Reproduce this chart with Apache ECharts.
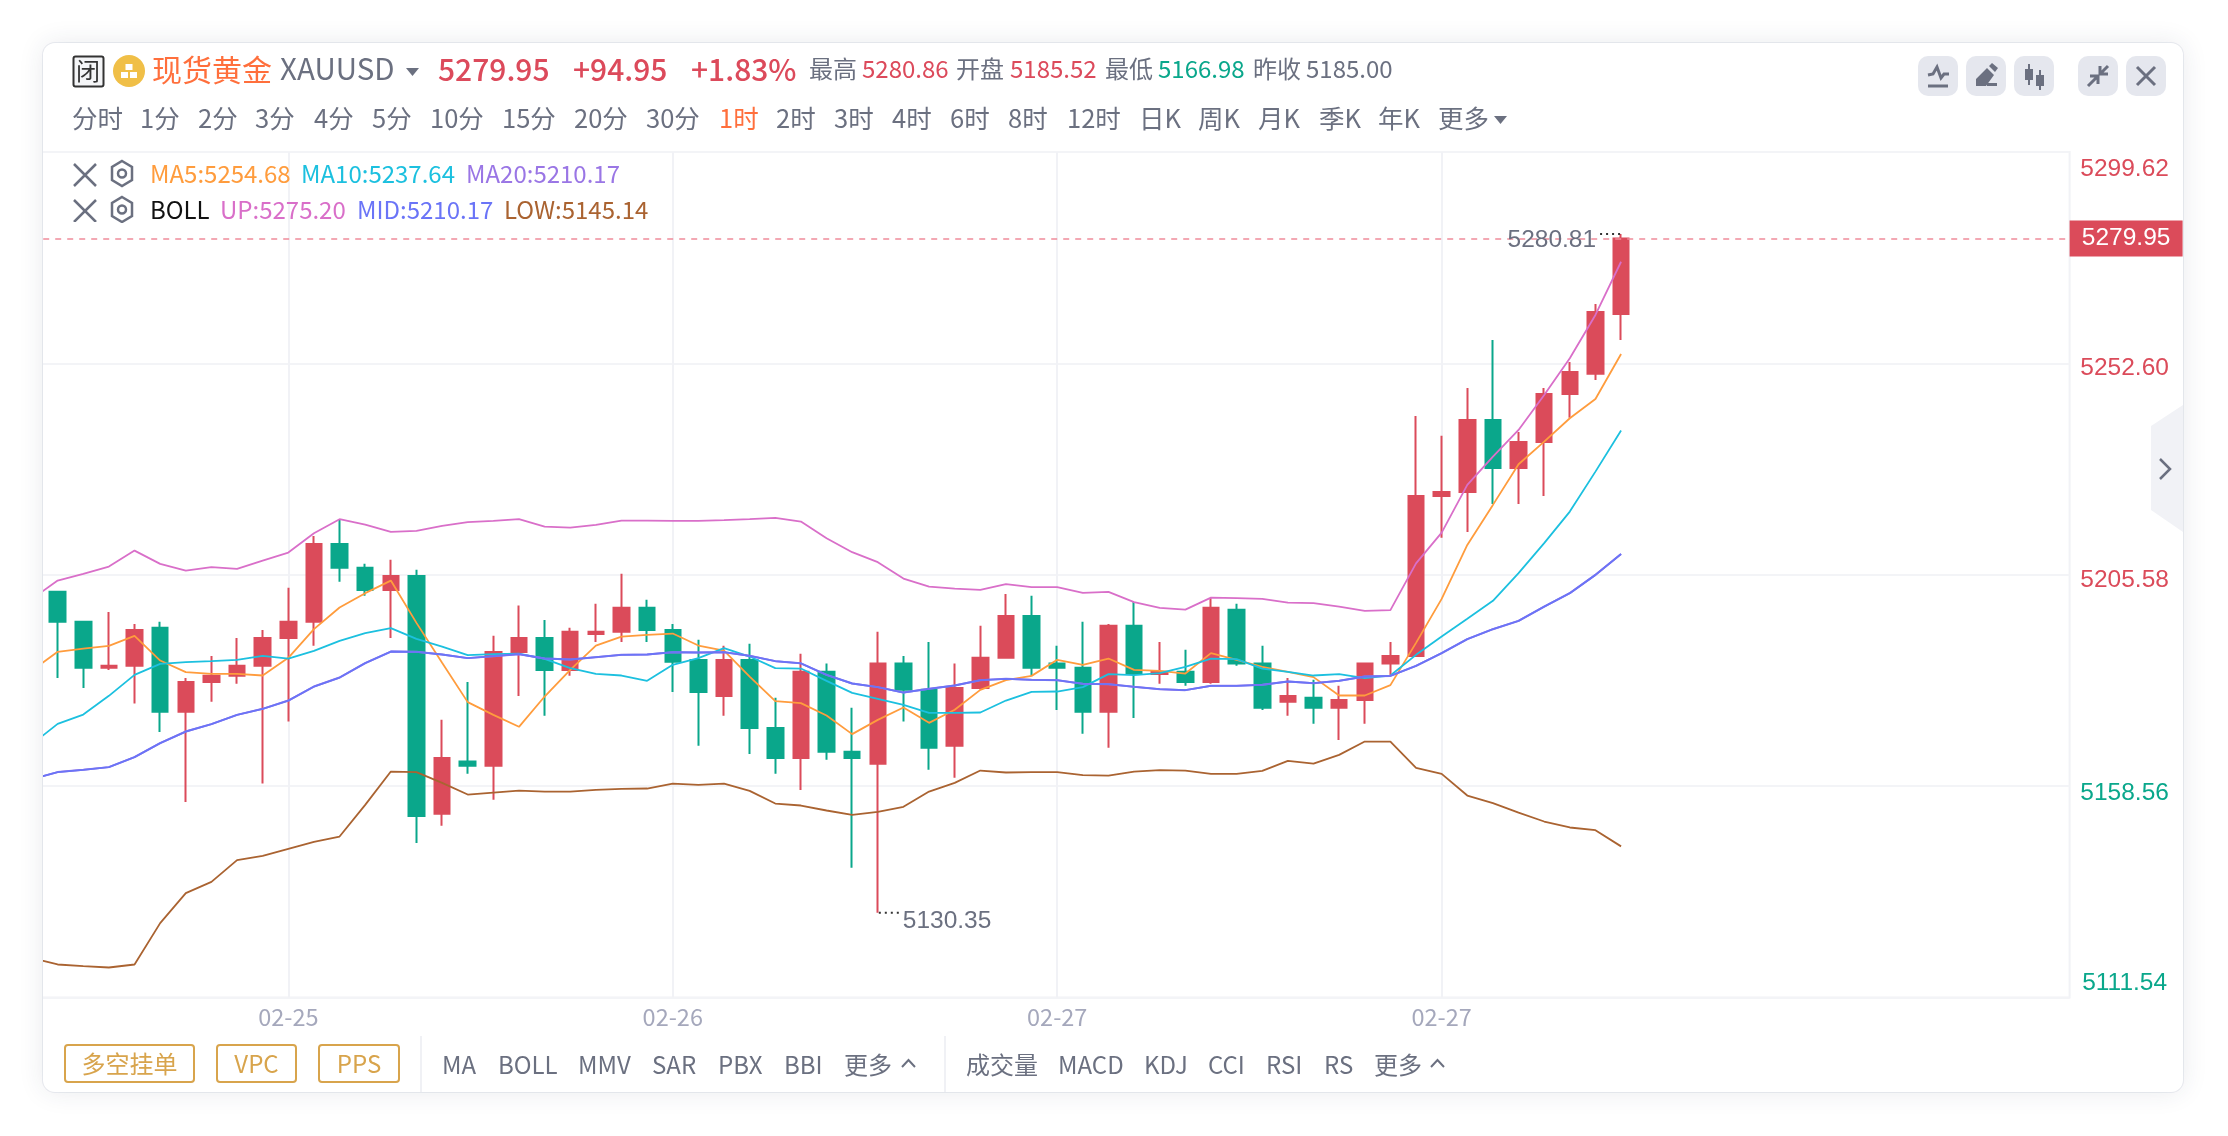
<!DOCTYPE html>
<html>
<head>
<meta charset="utf-8">
<script src="https://cdn.jsdelivr.net/npm/echarts@6/dist/echarts.min.js"></script>
<style>
html, body { margin: 0; padding: 0; background: #fff; }
body { width: 2228px; height: 1136px; overflow: hidden; position: relative; font-family: "Noto Sans CJK SC", sans-serif; }
#card { position: absolute; left: 43px; top: 43px; width: 2140px; height: 1049px; background: #fff; border-radius: 12px; overflow: hidden; box-shadow: 0 0 26px rgba(40,50,80,.10), 0 0 0 1px #eef0f4; }
#chart { position: absolute; left: -43px; top: -43px; width: 2228px; height: 1136px; }
#chrome { position: absolute; left: 0; top: 0; width: 2228px; height: 1136px; pointer-events: none; }
.t { position: absolute; line-height: 1; white-space: nowrap; transform: translateY(-50%); color: #6b7080; font-size: 24px; }
.r1 { top: 67.5px; }
.r2 { top: 116.5px; font-size: 25.5px; }
.l1 { top: 172.5px; font-size: 24px; }
.l2 { top: 208.5px; font-size: 24px; }
.b { top: 1063.5px; font-size: 24px; }
.red { color: #dc4a5b; }
.grn { color: #0aa78b; }
.big { font-size: 30px; font-weight: 500; color: #dc4a5b; }
.btn { position: absolute; top: 56px; width: 40px; height: 40px; border-radius: 10px; background: #e5e7ee; }
.btn svg, .ic { position: absolute; }
.tag { position: absolute; top: 1044px; height: 39px; box-sizing: border-box; border: 2px solid #d8a44c; border-radius: 4px; color: #d8a44c; font-size: 24px; line-height: 33px; text-align: center; }
.div { position: absolute; top: 1036px; width: 2px; height: 56px; background: #f0f1f5; }
</style>
</head>
<body>
<div id="card"><div id="chart"></div></div>
<div id="chrome">
  <svg class="ic" style="left:72px;top:55px" width="33" height="33"><rect x="1.5" y="1.5" width="30" height="30" rx="2" fill="#f4f5f7" stroke="#333" stroke-width="2"/></svg>
  <span class="t" style="left:76px;top:70px;font-size:24px;color:#333">闭</span>
  <svg class="ic" style="left:113px;top:55px" width="32" height="32"><circle cx="16" cy="16" r="16" fill="#f0bf47"/><rect x="12.500" y="9" width="7" height="6" fill="#fff"/><rect x="8" y="17" width="7" height="6" fill="#fff"/><rect x="17" y="17" width="7" height="6" fill="#fff"/></svg>
  <span class="t r1" style="left:152px;font-size:30px;color:#ff6f3c">现货黄金</span>
  <span class="t r1" style="left:280px;font-size:29.500px">XAUUSD</span>
  <svg class="ic" style="left:406px;top:68px" width="13" height="9"><path d="M0 0H13L6.500 8Z" fill="#6b7080"/></svg>
  <span class="t r1 big" style="left:438px">5279.95</span>
  <span class="t r1 big" style="left:573px">+94.95</span>
  <span class="t r1 big" style="left:691px">+1.83%</span>
  <span class="t r1" style="left:809px">最高</span>
  <span class="t r1 red" style="left:862px">5280.86</span>
  <span class="t r1" style="left:956px">开盘</span>
  <span class="t r1 red" style="left:1010px">5185.52</span>
  <span class="t r1" style="left:1105px">最低</span>
  <span class="t r1 grn" style="left:1158px">5166.98</span>
  <span class="t r1" style="left:1253px">昨收</span>
  <span class="t r1" style="left:1306px">5185.00</span>

  <div class="btn" style="left:1918px"><svg width="40" height="40" fill="none" stroke="#6b7080" stroke-width="3"><path d="M10 19l5-1 4-7 4 11 3-4h5"/><path d="M10 30H30"/></svg></div>
  <div class="btn" style="left:1966px"><svg width="40" height="40" fill="#6b7080"><path d="M10 30v-7L21 12l7 7-8 11zM23 10l3-3 6 5-3 4zM21 27h10v3H21z"/></svg></div>
  <div class="btn" style="left:2014px"><svg width="40" height="40" fill="#6b7080"><path d="M14 8h2v5h3v11h-3v5h-2v-5h-3V13h3zM25 14h2v5h3v11h-3v4h-2v-4h-3V19h3z"/></svg></div>
  <div class="btn" style="left:2078px"><svg width="40" height="40" fill="none" stroke="#6b7080" stroke-width="3"><path d="M10 30l9-9M12 20h8v8M30 10l-7 7M22 10v8h8" /></svg></div>
  <div class="btn" style="left:2126px"><svg width="40" height="40" fill="none" stroke="#6b7080" stroke-width="3"><path d="M11 11L29 29M29 11L11 29"/></svg></div>

  <span class="t r2" style="left:72px">分时</span>
  <span class="t r2" style="left:140px">1分</span>
  <span class="t r2" style="left:198px">2分</span>
  <span class="t r2" style="left:255px">3分</span>
  <span class="t r2" style="left:314px">4分</span>
  <span class="t r2" style="left:372px">5分</span>
  <span class="t r2" style="left:430px">10分</span>
  <span class="t r2" style="left:502px">15分</span>
  <span class="t r2" style="left:574px">20分</span>
  <span class="t r2" style="left:646px">30分</span>
  <span class="t r2" style="left:719px;color:#ff6f3c">1时</span>
  <span class="t r2" style="left:776px">2时</span>
  <span class="t r2" style="left:834px">3时</span>
  <span class="t r2" style="left:892px">4时</span>
  <span class="t r2" style="left:950px">6时</span>
  <span class="t r2" style="left:1008px">8时</span>
  <span class="t r2" style="left:1067px">12时</span>
  <span class="t r2" style="left:1139px">日K</span>
  <span class="t r2" style="left:1198px">周K</span>
  <span class="t r2" style="left:1258px">月K</span>
  <span class="t r2" style="left:1319px">季K</span>
  <span class="t r2" style="left:1378px">年K</span>
  <span class="t r2" style="left:1438px">更多</span>
  <svg class="ic" style="left:1494px;top:116px" width="13" height="9"><path d="M0 0H13L6.500 8Z" fill="#6b7080"/></svg>

  <svg class="ic" style="left:73px;top:162px" width="24" height="60" fill="none" stroke="#6b7080" stroke-width="2.500"><path d="M1 2L23 24M23 2L1 24M1 38L23 60M23 38L1 60" transform="translate(0,0)"/></svg>
  <svg class="ic" style="left:110px;top:159px" width="24" height="64" fill="none" stroke="#6b7080" stroke-width="2.500"><path d="M12 2L22 8V21L12 27L2 21V8Z"/><circle cx="12" cy="14.500" r="4"/><path d="M12 38L22 44V57L12 63L2 57V44Z"/><circle cx="12" cy="50.500" r="4"/></svg>
  <span class="t l1" style="left:150px;color:#ff9c3d">MA5:5254.68</span>
  <span class="t l1" style="left:301px;color:#1cc0df">MA10:5237.64</span>
  <span class="t l1" style="left:466px;color:#9a76e5">MA20:5210.17</span>
  <span class="t l2" style="left:150px;color:#111">BOLL</span>
  <span class="t l2" style="left:220px;color:#d96fc9">UP:5275.20</span>
  <span class="t l2" style="left:357px;color:#6a74f7">MID:5210.17</span>
  <span class="t l2" style="left:504px;color:#aa6331">LOW:5145.14</span>

  <div class="tag" style="left:64px;width:131px">多空挂单</div>
  <div class="tag" style="left:216px;width:81px">VPC</div>
  <div class="tag" style="left:318px;width:82px">PPS</div>
  <div class="div" style="left:420px"></div>
  <span class="t b" style="left:442px">MA</span>
  <span class="t b" style="left:498px">BOLL</span>
  <span class="t b" style="left:578px">MMV</span>
  <span class="t b" style="left:652px">SAR</span>
  <span class="t b" style="left:718px">PBX</span>
  <span class="t b" style="left:784px">BBI</span>
  <span class="t b" style="left:844px">更多</span>
  <svg class="ic" style="left:901px;top:1058px" width="15" height="10" fill="none" stroke="#6b7080" stroke-width="2"><path d="M1 9L7.500 2L14 9"/></svg>
  <div class="div" style="left:944px"></div>
  <span class="t b" style="left:966px">成交量</span>
  <span class="t b" style="left:1058px">MACD</span>
  <span class="t b" style="left:1144px">KDJ</span>
  <span class="t b" style="left:1208px">CCI</span>
  <span class="t b" style="left:1266px">RSI</span>
  <span class="t b" style="left:1324px">RS</span>
  <span class="t b" style="left:1374px">更多</span>
  <svg class="ic" style="left:1430px;top:1058px" width="15" height="10" fill="none" stroke="#6b7080" stroke-width="2"><path d="M1 9L7.500 2L14 9"/></svg>
</div>
<script>
// first slot of each series sits left of the visible plot, only the lines reach into view from it
var dateLabels = {10: '02-25', 25: '02-26', 40: '02-27', 55: '02-27'};
var slotCount = 80;

var opens = [null,
  5201.8,5195.1,5184.9,5185.3,5193.8,5175.1,5181.7,5183.1,5185.3,5191.5,
  5195.1,5212.4,5207.1,5202.2,5205.3,5152.4,5164.0,5163.1,5188.4,5191.5,
  5184.4,5192.4,5192.9,5198.2,5193.3,5186.6,5178.6,5186.6,5171.5,5164.8,
  5184.0,5166.2,5163.5,5185.8,5180.0,5167.5,5180.4,5187.1,5196.4,5185.8,
  5184.9,5175.1,5194.2,5183.5,5184.0,5181.7,5197.8,5185.8,5177.3,5178.2,
  5176.0,5177.7,5185.8,5187.5,5223.1,5224.0,5240.0,5229.3,5235.1,5245.8,
  5250.3,5263.6];
var closes = [null,
  5195.1,5184.9,5185.3,5193.3,5175.1,5181.7,5183.1,5185.3,5191.5,5195.1,
  5212.4,5207.1,5202.2,5205.3,5151.9,5164.8,5163.1,5188.4,5191.5,5184.4,
  5192.9,5192.9,5198.2,5193.3,5186.2,5179.5,5186.6,5171.5,5164.8,5184.0,
  5166.2,5164.8,5185.8,5180.0,5167.1,5180.4,5187.1,5196.4,5184.9,5184.9,
  5175.1,5194.2,5183.5,5184.0,5181.7,5198.2,5185.8,5176.0,5178.6,5176.0,
  5177.7,5185.8,5187.5,5223.1,5224.0,5240.0,5229.3,5235.1,5245.8,5250.7,
  5264.0,5280.4];
var lows = [null,
  5182.6,5180.4,5184.4,5176.9,5170.6,5155.0,5177.3,5181.3,5159.1,5172.9,
  5189.8,5204.0,5200.9,5191.5,5145.9,5149.7,5161.3,5155.5,5178.6,5174.2,
  5183.1,5190.6,5190.6,5190.6,5179.5,5167.5,5174.2,5165.7,5161.3,5157.7,
  5164.4,5140.4,5130.35,5172.9,5162.2,5160.4,5180.0,5187.1,5183.1,5175.5,
  5170.2,5167.1,5173.7,5181.3,5180.9,5181.3,5185.3,5175.5,5174.2,5172.4,
  5168.8,5172.4,5183.1,5187.5,5213.8,5215.1,5221.3,5221.3,5223.1,5240.5,
  5248.9,5257.8];
var highs = [null,
  5201.8,5195.1,5197.3,5194.6,5195.1,5182.6,5187.5,5191.5,5193.3,5202.7,
  5214.2,5217.8,5208.0,5208.9,5206.7,5173.3,5181.7,5192.0,5198.7,5195.5,
  5193.8,5199.1,5205.8,5200.0,5194.6,5191.1,5189.8,5190.2,5178.2,5188.0,
  5185.8,5176.0,5192.9,5187.5,5190.6,5185.8,5194.2,5201.3,5200.9,5189.8,
  5195.1,5194.6,5199.5,5190.6,5188.9,5200.4,5199.1,5189.8,5182.6,5182.2,
  5180.9,5185.8,5190.6,5240.9,5236.5,5247.1,5257.8,5237.3,5247.1,5252.9,
  5265.8,5281.4];

var ma5 = [5184.26,
  5188.42,5189.15,5189.75,5191.97,5186.48,5183.90,5183.52,5183.52,5183.15,5187.08,
  5193.46,5198.27,5201.47,5204.27,5194.86,5185.97,5177.23,5174.40,5171.74,5178.48,
  5184.41,5189.82,5191.82,5192.20,5192.49,5189.82,5188.71,5182.92,5177.45,5177.00,
  5174.25,5170.11,5173.29,5176.03,5172.62,5175.52,5179.96,5182.12,5183.07,5186.64,
  5185.53,5186.93,5184.41,5184.19,5183.59,5188.13,5186.64,5185.08,5183.97,5182.79,
  5178.70,5178.70,5181.01,5190.42,5200.20,5212.21,5221.11,5230.16,5235.19,5240.39,
  5244.68,5254.68];
var ma10 = [5167.89,
  5172.40,5174.47,5178.63,5183.30,5185.75,5186.12,5186.35,5186.64,5187.53,5186.93,
  5188.64,5190.86,5192.57,5193.69,5191.31,5189.59,5187.68,5187.90,5188.04,5186.86,
  5184.79,5183.52,5183.15,5181.97,5185.53,5187.02,5189.24,5187.37,5184.79,5184.70,
  5181.97,5179.30,5177.96,5176.63,5174.85,5174.85,5174.92,5177.58,5179.52,5179.59,
  5180.57,5183.46,5183.23,5183.68,5185.08,5186.93,5186.79,5184.70,5183.97,5183.15,
  5183.46,5182.57,5183.15,5187.75,5191.82,5195.76,5199.76,5205.92,5212.59,5219.62,
  5228.51,5237.64];
var bollUp = [5200.20,
  5204.27,5205.76,5207.38,5210.94,5207.99,5206.50,5207.25,5206.88,5208.72,5210.50,
  5214.82,5217.93,5216.73,5215.10,5215.33,5216.44,5217.26,5217.55,5217.93,5216.28,
  5216.06,5216.66,5217.62,5217.62,5217.55,5217.55,5217.71,5217.93,5218.22,5217.39,
  5213.70,5210.59,5208.36,5204.72,5202.94,5202.49,5202.20,5203.47,5202.80,5202.80,
  5201.54,5201.76,5199.47,5198.20,5197.82,5200.49,5200.36,5200.20,5199.38,5199.25,
  5198.49,5197.53,5197.69,5208.10,5214.95,5225.56,5231.85,5237.79,5245.57,5253.74,
  5263.37,5275.20];
var bollMid = [5160.10,
  5161.66,5162.17,5162.77,5164.99,5168.11,5170.69,5172.34,5174.40,5175.74,5177.58,
  5180.70,5182.70,5185.90,5188.48,5188.42,5187.82,5187.02,5187.46,5187.90,5186.93,
  5186.70,5187.24,5187.75,5187.82,5188.35,5188.26,5188.35,5187.53,5186.35,5185.86,
  5183.30,5181.37,5180.57,5179.36,5180.19,5180.92,5182.12,5182.41,5182.19,5182.12,
  5181.30,5181.23,5180.63,5180.12,5179.90,5180.85,5180.85,5181.08,5181.81,5181.45,
  5181.97,5182.92,5183.07,5185.30,5188.13,5191.24,5193.46,5195.31,5198.49,5201.47,
  5205.54,5210.17];
var bollLow = [5120.28,
  5118.86,5118.50,5118.19,5118.86,5128.07,5134.74,5137.25,5142.08,5143.04,5144.60,
  5146.15,5147.33,5154.38,5161.79,5161.66,5159.27,5156.67,5157.12,5157.56,5157.34,
  5157.34,5157.72,5157.94,5158.01,5159.12,5158.83,5159.12,5157.49,5154.67,5154.23,
  5153.12,5152.16,5152.83,5153.94,5157.34,5159.27,5162.01,5161.57,5161.66,5161.66,
  5160.99,5160.90,5161.79,5162.10,5162.01,5161.27,5161.27,5161.94,5164.17,5163.57,
  5165.50,5168.46,5168.46,5162.61,5161.27,5156.45,5154.76,5152.65,5150.67,5149.34,
  5148.75,5145.14];

var priceTicks = [5111.54, 5158.56, 5205.58, 5252.60, 5299.62];
var prevClose = 5185.00;
var lastPriceText = '5279.95';
var highText = '5280.81';
var lowText = '5130.35';

var RED = '#db4b5a', GREEN = '#0aa78b';
var FONT = '"Noto Sans CJK SC", sans-serif';
var DOTS = 'path://M0 0h2v2H0zM6 0h2v2H6zM12 0h2v2h-2zM18 0h2v2h-2z';

var categories = [];
for (var i = 0; i < slotCount; i++) {
    categories.push(dateLabels[i] || '');
}
var candles = opens.map(function (o, i) {
    return o === null ? '-' : [o, closes[i], lows[i], highs[i]];
});

// the tick labels do not sit exactly on their grid lines in the original
var labelNudge = {'5299.62': 17, '5252.60': 5, '5205.58': 6, '5158.56': 7, '5111.54': -14};
var labelRich = {};
priceTicks.forEach(function (v, i) {
    var d = labelNudge[v.toFixed(2)];
    labelRich['p' + i] = {
        color: v > prevClose ? RED : GREEN,
        fontFamily: 'Liberation Sans',
        fontSize: 24.5,
        padding: d > 0 ? [d * 2, 0, 0, 0] : [0, 0, -d * 2, 0]
    };
});

function lineSeries(name, data, color, width) {
    return {
        name: name,
        type: 'line',
        data: data,
        symbol: 'none',
        smooth: false,
        silent: true,
        clip: true,
        lineStyle: {color: color, width: width}
    };
}

var chart = echarts.init(document.getElementById('chart'));
chart.setOption({
    animation: false,
    grid: {left: 19.2, right: 158.4, top: 152, bottom: 138.6, show: true, borderColor: '#f1f2f6', borderWidth: 2, backgroundColor: 'transparent'},
    xAxis: {
        type: 'category',
        data: categories,
        boundaryGap: true,
        axisLine: {show: false},
        axisTick: {show: false},
        axisLabel: {
            interval: function (i) { return !!categories[i]; },
            color: '#a5a8bc', fontSize: 23.5, fontFamily: FONT, margin: 8
        },
        splitLine: {
            show: true,
            alignWithLabel: true,
            interval: function (i) { return !!categories[i]; },
            lineStyle: {color: '#f1f2f6', width: 2}
        }
    },
    yAxis: {
        type: 'value',
        position: 'right',
        min: 5111.54,
        max: 5299.62,
        axisLine: {show: false},
        axisTick: {show: false, customValues: priceTicks},
        axisLabel: {
            customValues: priceTicks,
            margin: 55,
            align: 'center',
            rich: labelRich,
            formatter: function (v) {
                return '{p' + priceTicks.indexOf(v) + '|' + v.toFixed(2) + '}';
            }
        },
        splitLine: {show: true, lineStyle: {color: '#f3f4f7', width: 2}}
    },
    series: [
        {
            type: 'candlestick',
            data: candles,
            barWidth: 16,
            clip: true,
            itemStyle: {color: RED, color0: GREEN, borderColor: RED, borderColor0: GREEN, borderWidth: 2},
            markLine: {
                silent: true,
                symbol: 'none',
                animation: false,
                data: [{yAxis: closes[closes.length - 1]}],
                lineStyle: {color: '#f08c9b', type: [6, 6], width: 1.5},
                label: {
                    position: 'end',
                    distance: 0,
                    align: 'left',
                    formatter: '{tag|' + lastPriceText + '}',
                    rich: {
                        tag: {
                            color: '#fff',
                            backgroundColor: RED,
                            fontFamily: 'Liberation Sans',
                            fontSize: 24.5,
                            width: 113,
                            height: 36,
                            lineHeight: 36,
                            align: 'center'
                        }
                    }
                }
            },
            markPoint: {
                silent: true,
                animation: false,
                data: [
                    {
                        coord: [62, highs[62]],
                        symbol: DOTS,
                        symbolSize: [20, 2],
                        symbolOffset: [-11, 0],
                        itemStyle: {color: '#333'},
                        label: {show: true, position: 'left', distance: 4, offset: [0, 6], formatter: highText, color: '#6b7080', fontFamily: 'Liberation Sans', fontSize: 24.5}
                    },
                    {
                        coord: [33, lows[33]],
                        symbol: DOTS,
                        symbolSize: [20, 2],
                        symbolOffset: [11, 0],
                        itemStyle: {color: '#333'},
                        label: {show: true, position: 'right', distance: 4, offset: [0, 8], formatter: lowText, color: '#6b7080', fontFamily: 'Liberation Sans', fontSize: 24.5}
                    }
                ]
            }
        },
        lineSeries('MA5', ma5, '#ff9c3d', 1.8),
        lineSeries('MA10', ma10, '#1cc0df', 1.8),
        lineSeries('MA20', bollMid, '#9a76e5', 2),
        lineSeries('UP', bollUp, '#d96fc9', 1.8),
        lineSeries('MID', bollMid, '#6a74f7', 1.9),
        lineSeries('LOW', bollLow, '#aa6331', 1.8)
    ],
    graphic: [
        {type: 'polygon', silent: true, shape: {points: [[2183, 405], [2151, 426], [2151, 510], [2183, 532]]}, style: {fill: '#f1f2f6'}},
        {type: 'polyline', silent: true, shape: {points: [[2160, 459], [2170, 469], [2160, 479]]}, style: {stroke: '#6b7080', lineWidth: 2.5, fill: null}}
    ]
});
</script>
</body>
</html>
